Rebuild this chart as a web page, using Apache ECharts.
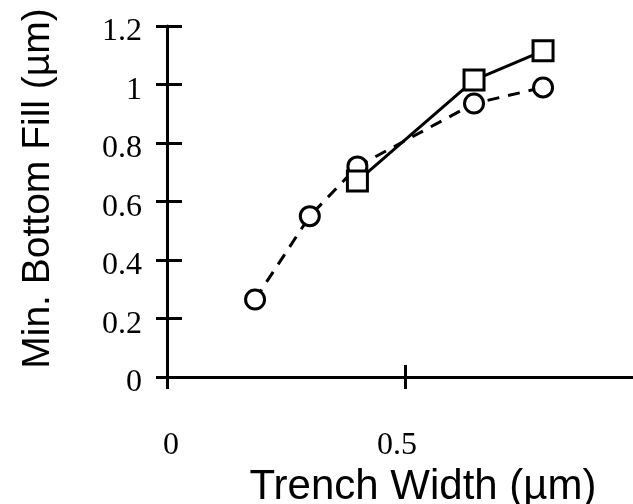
<!DOCTYPE html>
<html>
<head>
<meta charset="utf-8">
<script src="https://cdn.jsdelivr.net/npm/echarts@6/dist/echarts.min.js"></script>
<style>
  html, body { margin: 0; padding: 0; background: #fff; }
  #chart { width: 633px; height: 504px; }
</style>
</head>
<body>
<div id="chart"></div>
<script>
// Trench widths (µm) and minimum bottom fill (µm) for two deposition cases
const widthsCircle = [0.185, 0.30, 0.40, 0.645, 0.79];
const fillCircle   = [0.265, 0.55, 0.72, 0.935, 0.99];
const widthsSquare = [0.40, 0.645, 0.79];
const fillSquare   = [0.67, 1.015, 1.115];

const xTicks = [0, 0.5, 1];
const yTicks = [0, 0.2, 0.4, 0.6, 0.8, 1, 1.2];

const pair = (xs, ys) => xs.map((x, i) => [x, ys[i]]);

const serif = '"Liberation Serif", "Times New Roman", serif';
const sans = '"Liberation Sans", Arial, sans-serif';

const chart = echarts.init(document.getElementById('chart'));

const baseX = {
  type: 'value', min: 0, max: 1, interval: 0.5,
  splitLine: { show: false }
};
const baseY = {
  type: 'value', min: 0, max: 1.2, interval: 0.2,
  splitLine: { show: false }
};

chart.setOption({
  animation: false,
  backgroundColor: '#ffffff',
  grid: {
    left: 167, right: -10, top: 26, bottom: 127,
    outerBoundsMode: 'none', containLabel: false
  },
  xAxis: [
    Object.assign({}, baseX, {
      position: 'bottom',
      axisLine: { lineStyle: { color: '#000', width: 3 } },
      axisTick: { length: 12, lineStyle: { color: '#000', width: 3 } },
      axisLabel: {
        color: '#000', fontFamily: serif, fontSize: 32, margin: 53,
        align: 'right', padding: [0, -12, 0, 0],
        showMaxLabel: true, showMinLabel: true, hideOverlap: false,
        formatter: v => (xTicks.includes(v) ? String(v) : '')
      },
      name: 'Trench Width (\u00b5m)',
      nameLocation: 'middle',
      nameGap: 80,
      nameTextStyle: { color: '#000', fontFamily: sans, fontSize: 42, padding: [0, 0, 0, 36] }
    }),
    Object.assign({}, baseX, {
      position: 'bottom',
      axisLine: { show: false },
      axisTick: { inside: true, length: 12, lineStyle: { color: '#000', width: 3 } },
      axisLabel: { show: false }
    })
  ],
  yAxis: [
    Object.assign({}, baseY, {
      position: 'left',
      axisLine: { lineStyle: { color: '#000', width: 3 } },
      axisTick: { length: 11, lineStyle: { color: '#000', width: 3 } },
      axisLabel: {
        color: '#000', fontFamily: serif, fontSize: 32, margin: 25,
        verticalAlign: 'top', lineHeight: 12,
        formatter: v => String(Math.round(v * 10) / 10)
      },
      name: 'Min. Bottom Fill (\u00b5m)',
      nameLocation: 'middle',
      nameGap: 109,
      nameTextStyle: { color: '#000', fontFamily: sans, fontSize: 39, padding: [0, 0, 0, 26] }
    }),
    Object.assign({}, baseY, {
      position: 'left',
      axisLine: { show: false },
      axisTick: { inside: true, length: 15, lineStyle: { color: '#000', width: 3 } },
      axisLabel: { show: false }
    })
  ],
  series: [
    {
      type: 'line',
      data: pair(widthsCircle, fillCircle),
      symbol: 'circle',
      symbolSize: 19,
      lineStyle: { color: '#000', width: 3, type: [12, 9] },
      itemStyle: { color: '#fff', borderColor: '#000', borderWidth: 3 },
      z: 2
    },
    {
      type: 'line',
      data: pair(widthsSquare, fillSquare),
      symbol: 'rect',
      symbolSize: 20,
      lineStyle: { color: '#000', width: 3 },
      itemStyle: { color: '#fff', borderColor: '#000', borderWidth: 3 },
      z: 3
    }
  ]
});
</script>
</body>
</html>
